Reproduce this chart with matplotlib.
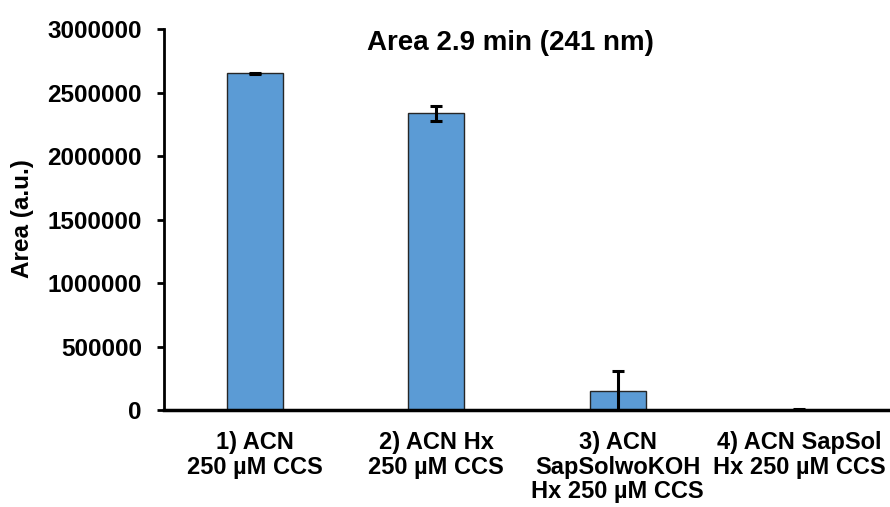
import matplotlib
matplotlib.use("Agg")
import matplotlib.pyplot as plt
import numpy as np

categories = ["1) ACN\n250 µM CCS", "2) ACN Hx\n250 µM CCS",
              "3) ACN\nSapSolwoKOH\nHx 250 µM CCS", "4) ACN SapSol\nHx 250 µM CCS"]
areas = [2650000, 2335000, 152000, 4000]
errors = [6000, 60000, 157000, 3000]
y_ticks = [0, 500000, 1000000, 1500000, 2000000, 2500000, 3000000]

plt.rcParams["font.family"] = ["Liberation Sans", "DejaVu Sans"]
plt.rcParams["font.weight"] = "bold"

fig = plt.figure(figsize=(8.9, 5.07), dpi=100)
ax = fig.add_axes([0.1843, 0.1913, 0.8157, 0.7515])

x = np.arange(len(categories))
ax.bar(x, areas, width=0.31, color="#5B9BD5", edgecolor="#262626", linewidth=1.0, zorder=2)
ax.errorbar(x, areas, yerr=errors, fmt="none", ecolor="black", elinewidth=2.2,
            capsize=4.5, capthick=2.2, zorder=3)

ax.set_xlim(-0.5, len(categories) - 0.5)
ax.set_ylim(0, 3000000)
ax.set_yticks(y_ticks)
ax.set_yticklabels([str(v) for v in y_ticks], fontsize=17.5, fontweight="bold")
ax.set_xticks(x)
ax.set_xticklabels(categories, fontsize=17, fontweight="bold", linespacing=1.1)
ax.tick_params(axis="x", length=0, pad=15)
ax.tick_params(axis="y", length=5, width=2, pad=11, direction="out")

for side in ["top", "right"]:
    ax.spines[side].set_visible(False)
ax.spines["left"].set_linewidth(2)
ax.spines["bottom"].set_linewidth(2.5)
ax.spines["bottom"].set_zorder(4)

fig.text(22 / 890, 1 - 219 / 507, "Area (a.u.)", rotation=90, ha="center", va="center",
         fontsize=17.5, fontweight="bold")
fig.text(510 / 890, 1 - 43 / 507, "Area 2.9 min (241 nm)", ha="center", va="center",
         fontsize=20, fontweight="bold")

fig.savefig("out.png", dpi=100)
